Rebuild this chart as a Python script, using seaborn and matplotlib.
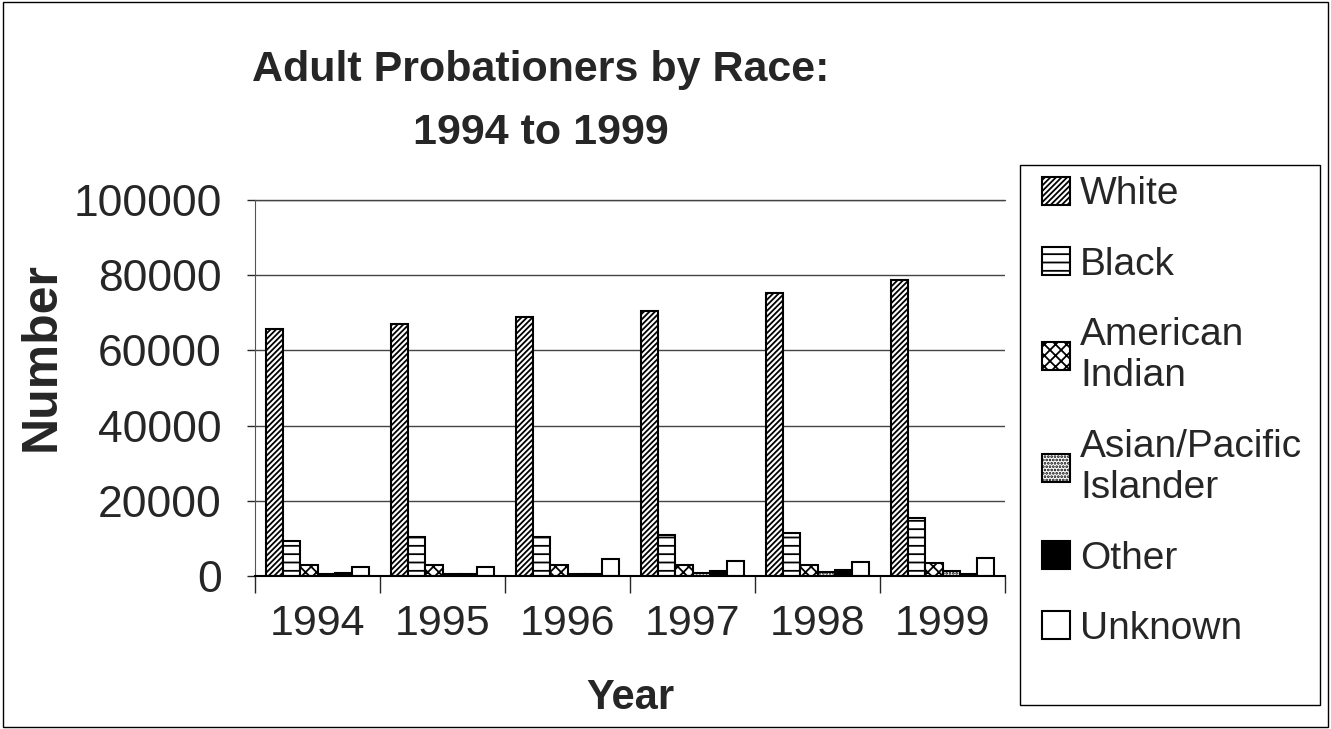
import pandas as pd
import numpy as np
import matplotlib.pyplot as plt
import seaborn as sns
from matplotlib.patches import Rectangle

years = ['1994', '1995', '1996', '1997', '1998', '1999']
races = ['White', 'Black', 'American\nIndian', 'Asian/Pacific\nIslander', 'Other', 'Unknown']
white = [65600, 66900, 69000, 70400, 75200, 78700]
black = [9300, 10300, 10400, 10900, 11500, 15500]
am_indian = [2900, 2900, 2800, 3000, 3000, 3500]
asian = [600, 600, 600, 800, 1000, 1200]
other = [900, 500, 500, 1200, 1700, 600]
unknown = [2300, 2300, 4400, 3900, 3600, 4900]

vals = [white, black, am_indian, asian, other, unknown]
rows = []
for r, v in zip(races, vals):
    for y, n in zip(years, v):
        rows.append({'Year': y, 'Number': n, 'Race': r})
df = pd.DataFrame(rows)

sns.set_style('white')
plt.rcParams['font.family'] = ['Liberation Sans', 'DejaVu Sans']
plt.rcParams['hatch.linewidth'] = 1.3

fig = plt.figure(figsize=(13.31, 7.29), dpi=100)
ax = fig.add_axes([0.1916, 0.2099, 0.5635, 0.5158])

colors = ['white', 'white', 'white', 'white', 'black', 'white']
sns.barplot(data=df, x='Year', y='Number', hue='Race', hue_order=races,
            palette=colors, edgecolor='black', linewidth=1.5, width=0.82,
            gap=0, ax=ax, legend=True)

hatches = ['//////', '--', 'xxx', '.....', '', '']
for cont, h in zip(ax.containers, hatches):
    for bar in cont:
        bar.set_hatch(h)

ax.set_ylim(0, 100000)
ax.set_xlim(-0.5, 5.5)
ax.set_yticks(range(0, 100001, 20000))
ax.yaxis.grid(True, color='#444444', linewidth=1)
ax.set_axisbelow(True)
for s in ['top', 'right']:
    ax.spines[s].set_visible(False)
ax.spines['left'].set_color('#555555')
ax.spines['bottom'].set_color('black')
ax.spines['bottom'].set_linewidth(1.5)
ax.axhline(100000, color='#444444', linewidth=1, clip_on=False)

ax.tick_params(axis='y', labelsize=32, length=6, width=1, direction='out', left=True, pad=18)
ax.tick_params(axis='x', labelsize=31, length=0, pad=20)
ax.set_xticks(np.arange(-0.5, 6, 1), minor=True)
ax.tick_params(axis='x', which='minor', length=12, width=1, bottom=True, direction='out')
ax.set_xlabel('Year', fontsize=30, fontweight='bold')
ax.set_ylabel('Number', fontsize=36, fontweight='bold')
ax.xaxis.set_label_coords(0.5, -0.27)
ax.yaxis.set_label_coords(-0.254, 0.585)

handles, labels = ax.get_legend_handles_labels()
for hd, h, c in zip(handles, hatches, colors):
    hd.set_hatch(h)
    hd.set_facecolor(c)
    hd.set_edgecolor('black')
ax.get_legend().remove()
leg = fig.legend(handles, labels, loc='upper left',
                 bbox_to_anchor=(0.770, 0.782), bbox_transform=fig.transFigure,
                 fontsize=28, frameon=False,
                 handlelength=0.72, handleheight=0.72, handletextpad=0.25,
                 labelspacing=0.88, borderpad=0.45, borderaxespad=0)

# legend box
fig.patches.append(Rectangle((1020 / 1331, 1 - 705 / 729), 300 / 1331, 540 / 729,
                             transform=fig.transFigure, fill=False,
                             edgecolor='black', linewidth=1))

fig.text(0.406, 0.932, 'Adult Probationers by Race:\n1994 to 1999', ha='center', va='top',
         fontsize=31, fontweight='bold', linespacing=1.75)

fig.patches.append(Rectangle((0.002, 0.003), 0.996, 0.994, transform=fig.transFigure,
                             fill=False, edgecolor='black', linewidth=1))

fig.savefig('out.png', dpi=100)
